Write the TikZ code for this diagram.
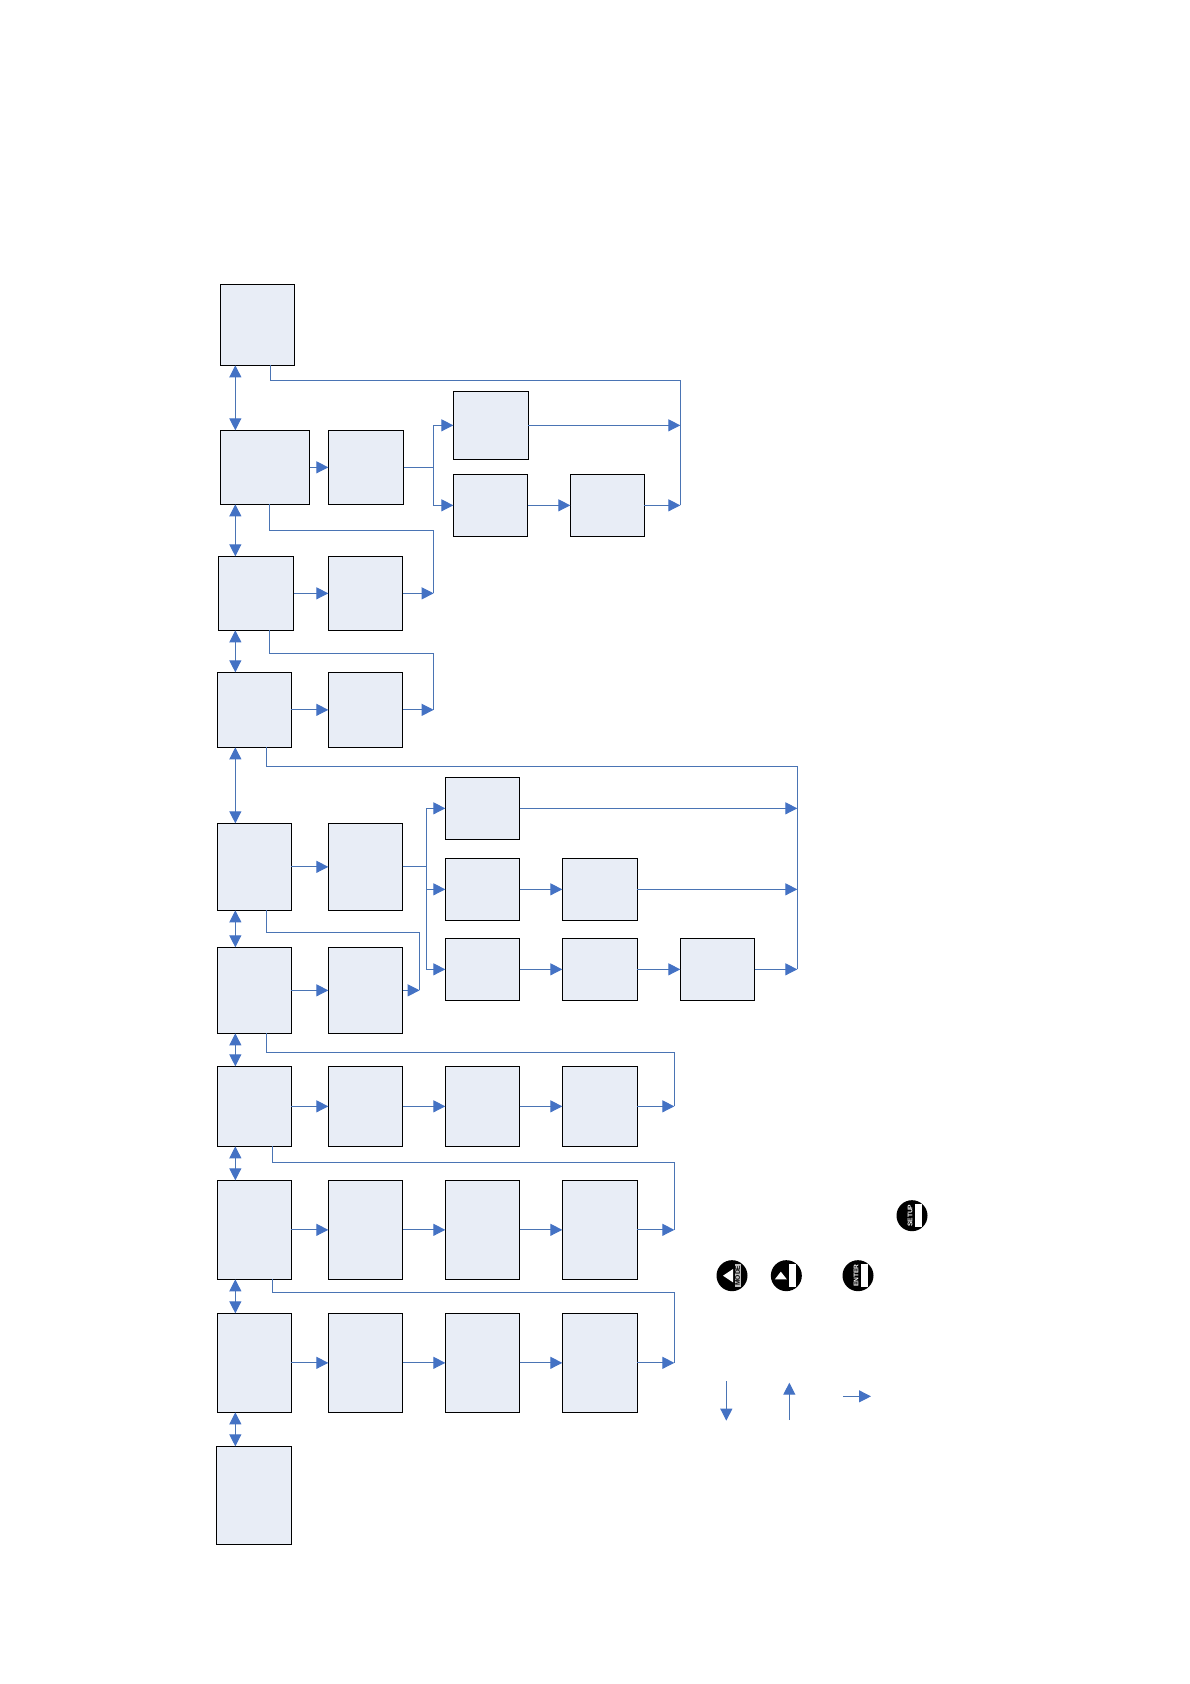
\documentclass[tikz,border=0pt]{standalone}
\usepackage{fontspec}
\setsansfont{Liberation Sans}
\usetikzlibrary{arrows.meta, calc, positioning}
\definecolor{linkcolor}{HTML}{4A74B4}
\definecolor{tipcolor}{HTML}{4472C4}
\definecolor{blockfill}{HTML}{E8EDF6}
\tikzset{
  block/.style={
    draw=black,
    line width=0.7pt,
    fill=blockfill,
    inner sep=0pt,
    outer sep=0pt,
    minimum width=44.6pt
  },
  link/.style={draw=linkcolor, line width=0.65pt},
  arr/.style={link, -{Triangle[length=7.2pt,width=7.2pt,color=tipcolor]}},
  twoway/.style={link, {Triangle[length=7.2pt,width=7.2pt,color=tipcolor]}-{Triangle[length=7.2pt,width=7.2pt,color=tipcolor]}},
  knob/.style={circle, fill=black, inner sep=0pt, minimum size=18.6pt},
  keybar/.style={fill=white, inner sep=0pt, minimum width=3.8pt, minimum height=13.6pt},
  keytext/.style={font=\sffamily\bfseries\fontsize{4}{4}\selectfont, inner sep=0pt, rotate=90}
}

\begin{document}
\begin{tikzpicture}

\useasboundingbox (0,0) rectangle (714pt,-1010.4pt);

% first column
\node[block, anchor=north west, minimum height=48.6pt] (home) at (132.2pt,-170.6pt) {};
\node[block, below=39pt of home.south west, anchor=north west, minimum width=53.6pt, minimum height=44.4pt] (rowb) {};
\node[block, below=31.2pt of rowb.south west, anchor=north west, xshift=-1.2pt, minimum width=45.2pt, minimum height=44.4pt] (rowc) {};
\node[block, below=25.2pt of rowc.south west, anchor=north west, xshift=-0.6pt, minimum width=44.4pt, minimum height=45pt] (rowd) {};
\node[block, below=45.6pt of rowd.south west, anchor=north west, minimum width=44.4pt, minimum height=52.2pt] (rowe) {};
\node[block, below=22.2pt of rowe.south west, anchor=north west, minimum width=44.4pt, minimum height=51.6pt] (rowf) {};
\node[block, below=19.8pt of rowf.south west, anchor=north west, minimum width=44.4pt, minimum height=48pt] (rowg) {};
\node[block, below=20.4pt of rowg.south west, anchor=north west, minimum width=44.4pt, minimum height=59.4pt] (rowh) {};
\node[block, below=20.4pt of rowh.south west, anchor=north west, minimum width=44.4pt, minimum height=59.4pt] (rowi) {};
\node[block, below=20.4pt of rowi.south west, anchor=north west, xshift=-0.6pt, minimum width=45pt, minimum height=58.8pt] (rowj) {};

% second column
\node[block, right=11.2pt of rowb, minimum width=45.2pt, minimum height=44.4pt] (rowbb) {};
\node[block, right=20.8pt of rowc, minimum height=44.4pt] (rowcb) {};
\node[block, right=22.2pt of rowd, minimum height=45pt] (rowdb) {};
\node[block, right=22.2pt of rowe, minimum height=52.2pt] (roweb) {};
\node[block, right=22.2pt of rowf, minimum height=51.6pt] (rowfb) {};
\node[block, right=22.2pt of rowg, minimum height=48pt] (rowgb) {};
\node[block, right=22.2pt of rowh, minimum height=59.4pt] (rowhb) {};
\node[block, right=22.2pt of rowi, minimum height=59.4pt] (rowib) {};

% upper branch
\node[block, right=29.8pt of rowbb, yshift=25.2pt, minimum width=45pt, minimum height=40.8pt] (upa) {};
\node[block, right=29.8pt of rowbb, yshift=-22.8pt, minimum height=37.2pt] (upb) {};
\node[block, right=25.6pt of upb, minimum width=44.4pt, minimum height=37.2pt] (upc) {};

% middle branch
\node[block, right=25.6pt of roweb, yshift=35.1pt, minimum height=37.2pt] (mida) {};
\node[block, right=25.6pt of roweb, yshift=-13.5pt, minimum height=37.2pt] (midb) {};
\node[block, right=25.6pt of midb, minimum width=45pt, minimum height=37.2pt] (midc) {};
\node[block, right=25.6pt of roweb, yshift=-61.5pt, minimum height=37.2pt] (midd) {};
\node[block, right=25.6pt of midd, minimum width=45pt, minimum height=37.2pt] (mide) {};
\node[block, right=25.8pt of mide, minimum height=37.2pt] (midf) {};

% last three long rows
\node[block, right=25.6pt of rowgb, minimum height=48pt] (rowgc) {};
\node[block, right=25.6pt of rowgc, minimum width=45pt, minimum height=48pt] (rowgd) {};
\node[block, right=25.6pt of rowhb, minimum height=59.4pt] (rowhc) {};
\node[block, right=25.6pt of rowhc, minimum width=45pt, minimum height=59.4pt] (rowhd) {};
\node[block, right=25.6pt of rowib, minimum height=59.4pt] (rowic) {};
\node[block, right=25.6pt of rowic, minimum width=45pt, minimum height=59.4pt] (rowid) {};

\coordinate (spine) at ($(home.south west)+(9pt,0)$);
\coordinate (railone) at ($(upc.east)+(21.6pt,0)$);
\coordinate (forkone) at ($(rowbb.east)+(18pt,0)$);
\coordinate (forktwo) at ($(roweb.east)+(14.2pt,0)$);
\coordinate (forkthree) at ($(rowfb.east)+(10.2pt,0)$);
\coordinate (railtwo) at ($(midf.east)+(25.6pt,0)$);
\coordinate (railthree) at ($(rowgd.east)+(22.2pt,0)$);

% up and down the first column
\draw[twoway] (spine |- home.south) -- (spine |- rowb.north);
\draw[twoway] (spine |- rowb.south) -- (spine |- rowc.north);
\draw[twoway] (spine |- rowc.south) -- (spine |- rowd.north);
\draw[twoway] (spine |- rowd.south) -- (spine |- rowe.north);
\draw[twoway] (spine |- rowe.south) -- (spine |- rowf.north);
\draw[twoway] (spine |- rowf.south) -- (spine |- rowg.north);
\draw[twoway] (spine |- rowg.south) -- (spine |- rowh.north);
\draw[twoway] (spine |- rowh.south) -- (spine |- rowi.north);
\draw[twoway] (spine |- rowi.south) -- (spine |- rowj.north);

% along the rows
\draw[arr] (rowb) -- (rowbb);
\draw[arr] (rowc) -- (rowcb);
\draw[arr] (rowd) -- (rowdb);
\draw[arr] (rowe) -- (roweb);
\draw[arr] (rowf) -- (rowfb);
\draw[arr] (rowg) -- (rowgb);
\draw[arr] (rowgb) -- (rowgc);
\draw[arr] (rowgc) -- (rowgd);
\draw[arr] (rowh) -- (rowhb);
\draw[arr] (rowhb) -- (rowhc);
\draw[arr] (rowhc) -- (rowhd);
\draw[arr] (rowi) -- (rowib);
\draw[arr] (rowib) -- (rowic);
\draw[arr] (rowic) -- (rowid);
\draw[arr] (upb) -- (upc);
\draw[arr] (midb) -- (midc);
\draw[arr] (midd) -- (mide);
\draw[arr] (mide) -- (midf);

% forks
\draw[arr] (rowbb.east) -- (forkone) |- (upa.west);
\draw[arr] (rowbb.east) -- (forkone) |- (upb.west);
\draw[arr] (roweb.east) -- (forktwo) |- (mida.west);
\draw[arr] (roweb.east) -- (forktwo) |- (midb.west);
\draw[arr] (roweb.east) -- (forktwo) |- (midd.west);

% into the rails
\draw[arr] (upa.east) -- (railone |- upa.east);
\draw[arr] (upc.east) -- (railone |- upc.east);
\draw[arr] (rowcb.east) -- (forkone |- rowcb.east);
\draw[arr] (rowdb.east) -- (forkone |- rowdb.east);
\draw[arr] (mida.east) -- (railtwo |- mida.east);
\draw[arr] (midc.east) -- (railtwo |- midc.east);
\draw[arr] (midf.east) -- (railtwo |- midf.east);
\draw[arr] (rowfb.east) -- (forkthree);
\draw[arr] (rowgd.east) -- (railthree |- rowgd.east);
\draw[arr] (rowhd.east) -- (railthree |- rowhd.east);
\draw[arr] (rowid.east) -- (railthree |- rowid.east);

% back lines
\draw[link] ($(home.south west)+(30pt,0)$) -- ++(0,-9pt) -| (railone |- upc.east);
\draw[link] ($(rowb.south west)+(29.6pt,0)$) -- ++(0,-15.6pt) -| (forkone |- rowcb.east);
\draw[link] ($(rowc.south west)+(30.8pt,0)$) -- ++(0,-13.8pt) -| (forkone |- rowdb.east);
\draw[link] ($(rowd.south west)+(29.4pt,0)$) -- ++(0,-11.4pt) -| (railtwo |- midf.east);
\draw[link] ($(rowe.south west)+(29.4pt,0)$) -- ++(0,-13.2pt) -| (forkthree);
\draw[link] ($(rowf.south west)+(29.4pt,0)$) -- ++(0,-11.4pt) -| (railthree |- rowgd.east);
\draw[link] ($(rowg.south west)+(33pt,0)$) -- ++(0,-9.6pt) -| (railthree |- rowhd.east);
\draw[link] ($(rowh.south west)+(33pt,0)$) -- ++(0,-7.8pt) -| (railthree |- rowid.east);

% keys
\node[knob] (setupkey) at (547.2pt,-729.4pt) {};
\node[keybar] (setupbar) at ($(setupkey)+(3.8pt,0)$) {};
\node[keytext, text=white] (setuptext) at ($(setupkey)+(-1.2pt,0)$) {SETUP};

\node[knob] (modekey) at (439.2pt,-765.4pt) {};
\node[keybar, fill=black!25] (modebar) at ($(modekey)+(3.4pt,0)$) {};
\node[keytext] (modetext) at (modebar) {MODE};
\fill[white] ($(modekey)+(-5.4pt,0)$) -- ++(6pt,4pt) -- ++(0,-8pt) -- cycle;

\node[knob] (upkey) at (471.8pt,-765.4pt) {};
\node[keybar] (upbar) at ($(upkey)+(3.7pt,0)$) {};
\fill[white] ($(upkey)+(-3.3pt,2.4pt)$) -- ++(3.6pt,-4.6pt) -- ++(-7.2pt,0) -- cycle;

\node[knob] (enterkey) at (514.8pt,-765.4pt) {};
\node[keybar] (enterbar) at ($(enterkey)+(3.8pt,0)$) {};
\node[keytext, text=white] (entertext) at ($(enterkey)+(-1.2pt,0)$) {ENTER};

% arrows under the keys
\coordinate (downtop) at (435.8pt,-828.6pt);
\coordinate (downend) at (435.8pt,-852.4pt);
\coordinate (upfoot) at (473.6pt,-852pt);
\coordinate (uptop) at (473.6pt,-829.6pt);
\coordinate (rightfoot) at (506pt,-837.8pt);
\coordinate (rightend) at (522.6pt,-837.8pt);
\draw[arr] (downtop) -- (downend);
\draw[arr] (upfoot) -- (uptop);
\draw[arr] (rightfoot) -- (rightend);

\end{tikzpicture}
\end{document}
